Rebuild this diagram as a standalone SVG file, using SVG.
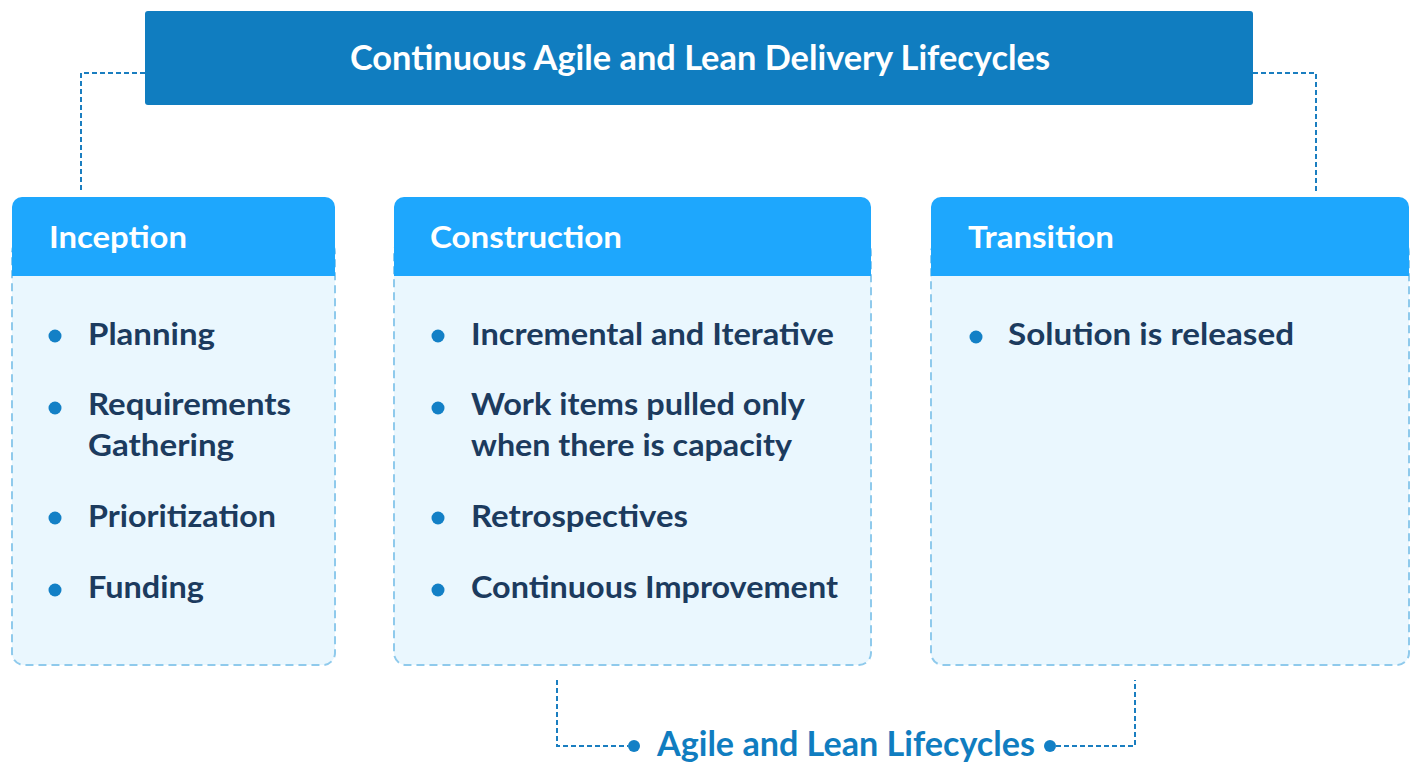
<svg xmlns="http://www.w3.org/2000/svg" width="1418" height="762" viewBox="0 0 1418 762">
<style>
.conn{fill:none;stroke:#1a7ec0;stroke-width:2;stroke-dasharray:5 3}
.body{fill:#eaf7fe;stroke:#8fcaec;stroke-width:2;stroke-dasharray:8 5}
.head{fill:#1ea7fd}
.htxt{font-family:Lato,"Open Sans",sans-serif;font-weight:700;font-size:30px;fill:#ffffff}
.item{font-family:Lato,"Liberation Sans",sans-serif;font-weight:700;font-size:30px;fill:#1c3b5e}
.dot{fill:#1380c6}
</style>
<rect width="1418" height="762" fill="#ffffff"/>
<g id="connectors">
<path class="conn" d="M145 73 H81 V192"/>
<path class="conn" d="M1253 73 H1316 V192"/>
<path class="conn" d="M557 680 V746 H628"/>
<path class="conn" d="M1056 746 H1135 V680"/>
<circle class="dot" cx="634" cy="746" r="6"/>
<circle class="dot" cx="1050" cy="746" r="6"/>
</g>
<g id="title">
<rect x="145" y="11" width="1108" height="94" rx="3" fill="#107dc0"/>
<text x="350" y="70" textLength="700" lengthAdjust="spacingAndGlyphs" font-family="Lato, 'Open Sans', sans-serif" font-weight="700" font-size="34" fill="#ffffff">Continuous Agile and Lean Delivery Lifecycles</text>
</g>
<g id="inception">
<rect class="body" x="12" y="240" width="323" height="425" rx="12"/>
<path class="head" d="M12 276 V207 a10 10 0 0 1 10 -10 H325 a10 10 0 0 1 10 10 V276 Z"/>
<text class="htxt" x="49" y="248" textLength="138" lengthAdjust="spacingAndGlyphs">Inception</text>
<circle class="dot" cx="55" cy="336" r="6.5"/>
<text class="item" x="88" y="345" textLength="127" lengthAdjust="spacingAndGlyphs">Planning</text>
<circle class="dot" cx="55" cy="408" r="6.5"/>
<text class="item" x="88" y="415" textLength="203" lengthAdjust="spacingAndGlyphs">Requirements</text>
<text class="item" x="88" y="456" textLength="146" lengthAdjust="spacingAndGlyphs">Gathering</text>
<circle class="dot" cx="55" cy="518" r="6.5"/>
<text class="item" x="88" y="527" textLength="188" lengthAdjust="spacingAndGlyphs">Prioritization</text>
<circle class="dot" cx="55" cy="590" r="6.5"/>
<text class="item" x="88" y="598" textLength="116" lengthAdjust="spacingAndGlyphs">Funding</text>
</g>
<g id="construction">
<rect class="body" x="394" y="240" width="477" height="425" rx="12"/>
<path class="head" d="M394 276 V207 a10 10 0 0 1 10 -10 H861 a10 10 0 0 1 10 10 V276 Z"/>
<text class="htxt" x="430" y="248" textLength="192" lengthAdjust="spacingAndGlyphs">Construction</text>
<circle class="dot" cx="438" cy="336" r="6.5"/>
<text class="item" x="471" y="345" textLength="363" lengthAdjust="spacingAndGlyphs">Incremental and Iterative</text>
<circle class="dot" cx="438" cy="408" r="6.5"/>
<text class="item" x="471" y="415" textLength="334" lengthAdjust="spacingAndGlyphs">Work items pulled only</text>
<text class="item" x="471" y="456" textLength="321" lengthAdjust="spacingAndGlyphs">when there is capacity</text>
<circle class="dot" cx="438" cy="518" r="6.5"/>
<text class="item" x="471" y="527" textLength="217" lengthAdjust="spacingAndGlyphs">Retrospectives</text>
<circle class="dot" cx="438" cy="590" r="6.5"/>
<text class="item" x="471" y="598" textLength="367" lengthAdjust="spacingAndGlyphs">Continuous Improvement</text>
</g>
<g id="transition">
<rect class="body" x="931" y="240" width="478" height="425" rx="12"/>
<path class="head" d="M931 276 V207 a10 10 0 0 1 10 -10 H1399 a10 10 0 0 1 10 10 V276 Z"/>
<text class="htxt" x="968" y="248" textLength="146" lengthAdjust="spacingAndGlyphs">Transition</text>
<circle class="dot" cx="976" cy="337" r="6.5"/>
<text class="item" x="1008" y="345" textLength="286" lengthAdjust="spacingAndGlyphs">Solution is released</text>
</g>
<g id="footer">
<text x="657" y="756" textLength="378" lengthAdjust="spacingAndGlyphs" font-family="Lato, 'Open Sans', sans-serif" font-weight="700" font-size="34" fill="#107dc0">Agile and Lean Lifecycles</text>
</g>
</svg>
